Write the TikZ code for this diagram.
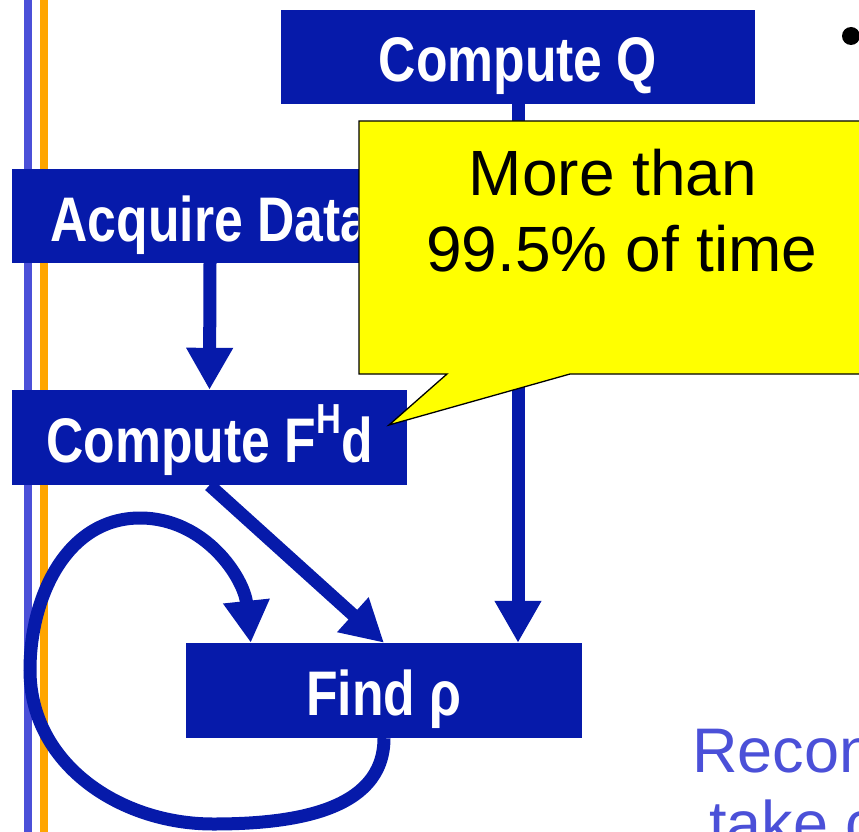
\documentclass[tikz,border=0pt]{standalone}
\usepackage{fontspec}
\setmainfont{Liberation Sans}
\newfontfamily\boxfont{Liberation Sans}[FakeStretch=0.82]
\usetikzlibrary{arrows.meta}
\definecolor{boxblue}{RGB}{6,26,170}
\definecolor{sideblue}{RGB}{75,80,216}
\definecolor{sideorange}{RGB}{255,165,0}
\definecolor{noteyellow}{RGB}{255,255,0}
\pgfdeclarelayer{back}
\pgfdeclarelayer{mid}
\pgfsetlayers{back,mid,main}
\begin{document}
\begin{tikzpicture}[x=1pt,y=-1pt,
  box/.style={fill=boxblue, text=white, inner sep=0pt,
    minimum width=#1, minimum height=94pt,
    text height=50pt, text depth=0pt,
    font=\boxfont\bfseries\fontsize{63}{63}\selectfont},
  flow/.style={draw=boxblue, line width=13pt,
    -{Triangle[length=42pt,width=44pt]}},
  notetext/.style={anchor=base, inner sep=0pt,
    font=\fontsize{64}{76}\selectfont},
  slidetext/.style={anchor=base west, inner sep=0pt, text=sideblue,
    font=\fontsize{63}{63}\selectfont}]
\useasboundingbox (0,0) rectangle (859,832);

% slide margin rules
\begin{pgfonlayer}{back}
  \draw[line width=8pt, sideblue] (27.5,0) -- (27.5,832);
  \draw[line width=7.5pt, sideorange] (44,0) -- (44,832);
\end{pgfonlayer}

% processing steps
\node[box=474pt] (compq) at (518,57) {Compute Q};
\node[box=396pt] (acq) at (210,216) {Acquire Data};
\node[box=395pt, minimum height=95pt] (fhd) at (209.5,437.5)
  {Compute F\raisebox{29pt}{\fontsize{42}{42}\selectfont H}d};
\node[box=396pt, minimum height=95pt] (find) at (384,690.5) {Find ρ};

% data flow
\begin{pgfonlayer}{mid}
  \draw[flow] (acq.south) -- (fhd.north);
  \draw[flow] (compq.south) -- (compq.south |- find.north);
  \draw[flow] (fhd.south) -- (find.north);
  \draw[flow] (find.south) to[out=-90,in=0] (213,824)
    to[out=180,in=-90] (30,670)
    to[out=90,in=180] (140,518)
    to[out=0,in=96] ([xshift=65pt]find.north west);
\end{pgfonlayer}

% timing callout
\draw[fill=noteyellow, draw=black, line width=1.3pt]
  (359,121) -- (900,121) -- (900,374) -- (570,374)
  -- (389,425) -- (447,374) -- (359,374) -- cycle;
\node[notetext] (note1) at (613,195) {More than};
\node[notetext] (note2) at (622,271) {99.5\% of time};

% slide text continuing to the right
\fill (851,36) circle (9pt);
\node[slidetext] (recon) at (692,772) {Recon};
\node[slidetext] (take) at (709,845) {take c};
\end{tikzpicture}
\end{document}
